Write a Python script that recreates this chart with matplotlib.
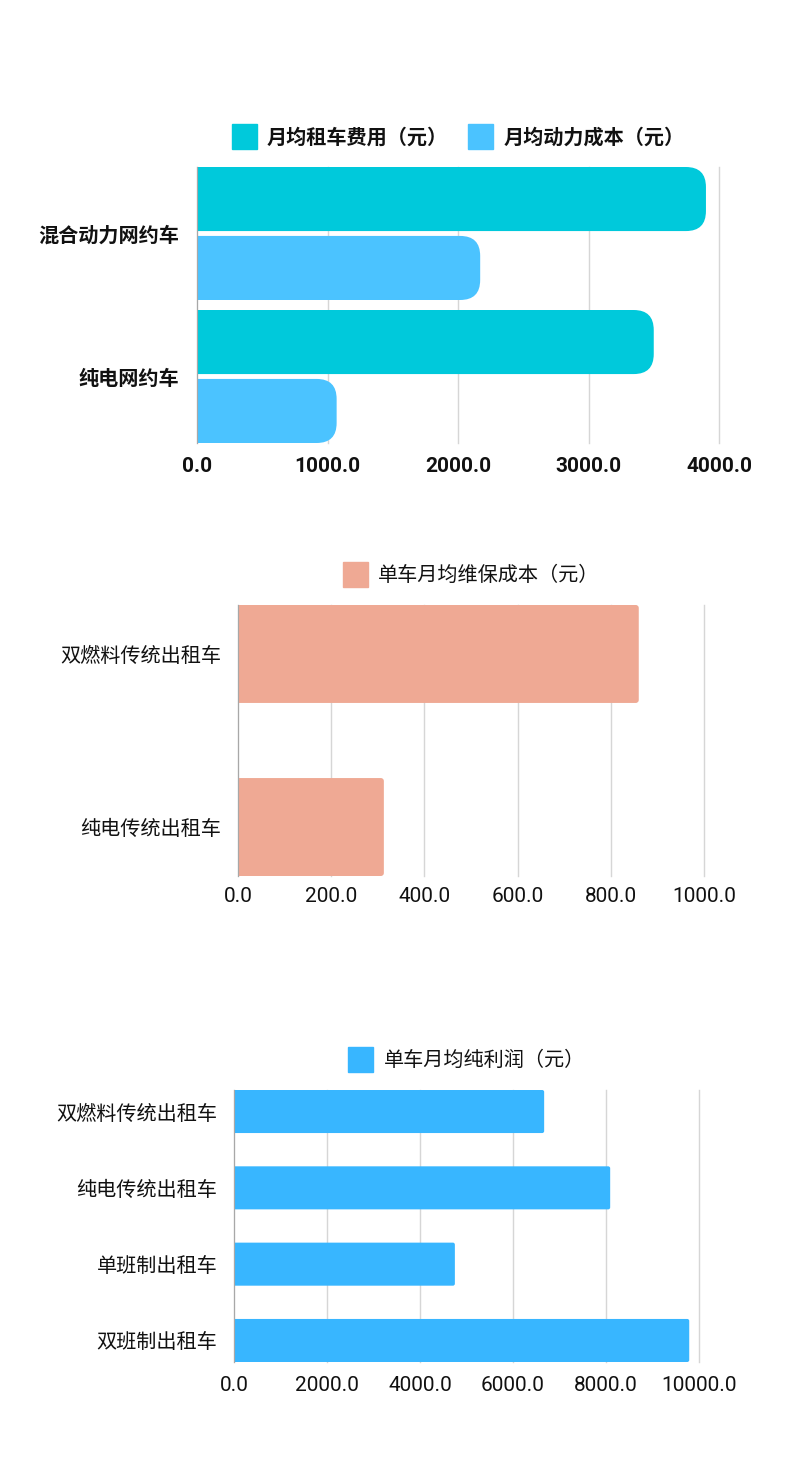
import matplotlib
matplotlib.use("Agg")
import matplotlib.pyplot as plt
import matplotlib.patches as mpatches
from matplotlib.patches import FancyBboxPatch

plt.rcParams['font.family'] = ['Noto Sans CJK SC', 'DejaVu Sans']

# chart 1 data
cars1 = ['混合动力网约车', '纯电网约车']
rent_fee = [3900, 3500]
power_cost = [2170, 1070]
series1 = ['月均租车费用（元）', '月均动力成本（元）']

# chart 2 data
cars2 = ['双燃料传统出租车', '纯电传统出租车']
maint_cost = [860, 313]
series2 = '单车月均维保成本（元）'

# chart 3 data
cars3 = ['双燃料传统出租车', '纯电传统出租车', '单班制出租车', '双班制出租车']
profit = [6670, 8090, 4750, 9790]
series3 = '单车月均纯利润（元）'

C_FEE = '#00C9DB'
C_POW = '#4BC3FF'
C_MAINT = '#EFA994'
C_PROFIT = '#38B6FF'
GRID = '#D6D6D6'

W, H = 800, 1467
fig = plt.figure(figsize=(W / 100, H / 100), dpi=100)


def px_axes(left, top, right, bottom):
    return fig.add_axes([left / W, 1 - bottom / H, (right - left) / W, (bottom - top) / H])


def style(ax, xmax, ticks, bold, pad_y, pad_x):
    ax.set_xlim(0, xmax)
    ax.set_xticks(ticks)
    ax.set_xticklabels([f'{t:.1f}' for t in ticks])
    ax.grid(axis='x', color=GRID, lw=1)
    for gl in ax.get_xgridlines():
        gl.set_clip_on(False)
    ax.set_axisbelow(True)
    for s in ['top', 'right', 'bottom']:
        ax.spines[s].set_visible(False)
    ax.spines['left'].set_color('#A8A8A8')
    ax.tick_params(length=0)
    ax.tick_params(axis='y', pad=pad_y)
    ax.tick_params(axis='x', pad=pad_x)
    w = 'bold' if bold else 'normal'
    for lab in ax.get_xticklabels():
        lab.set_family(['Roboto', 'DejaVu Sans'])
        lab.set_fontsize(15)
        lab.set_fontweight(w)
        lab.set_color('#111111')
    for lab in ax.get_yticklabels():
        lab.set_fontsize(14.5)
        lab.set_fontweight(w)
        lab.set_color('#111111')


def rounded_barh(ax, ypos, vals, height, color, r_px, ax_px):
    x0, x1 = ax.get_xlim()
    y0, y1 = ax.get_ylim()
    xpp = (x1 - x0) / ax_px[0]
    ypp = abs(y1 - y0) / ax_px[1]
    r = r_px * xpp
    for y, v in zip(ypos, vals):
        start = -3 * r
        p = FancyBboxPatch((start, y - height / 2), v - start, height,
                           boxstyle=f'round,pad=0,rounding_size={r}',
                           mutation_aspect=ypp / xpp, fc=color, ec='none', zorder=2)
        ax.add_patch(p)


def legend(ax, items, bold, anchor_y, spacing=1.2):
    handles = [mpatches.Patch(color=c, label=l) for l, c in items]
    leg = ax.legend(handles=handles, loc='lower center', bbox_to_anchor=(0.5, anchor_y),
                    ncol=len(items), frameon=False, handlelength=1.25, handleheight=1.5,
                    handletextpad=0.5, columnspacing=spacing,
                    prop={'size': 14.5, 'weight': 'bold' if bold else 'normal'})
    for t in leg.get_texts():
        t.set_color('#111111')


# ---- chart 1
ax1 = px_axes(197, 167, 719, 443)
ax1.set_ylim(1.465, -0.465)
ax1.set_yticks(range(len(cars1)))
ax1.set_yticklabels(cars1)
style(ax1, 4000, [0, 1000, 2000, 3000, 4000], True, 13, 10)
pos = list(range(len(cars1)))
rounded_barh(ax1, [p - 0.241 for p in pos], rent_fee, 0.448, C_FEE, 20, (522, 276))
rounded_barh(ax1, [p + 0.241 for p in pos], power_cost, 0.448, C_POW, 20, (522, 276))
legend(ax1, [(series1[0], C_FEE), (series1[1], C_POW)], True, 1.0, 1.0)

# ---- chart 2
ax2 = px_axes(238, 605, 704, 876)
ax2.set_ylim(1.283, -0.283)
ax2.set_yticks(range(len(cars2)))
ax2.set_yticklabels(cars2)
style(ax2, 1000, [0, 200, 400, 600, 800, 1000], False, 12, 8)
rounded_barh(ax2, range(len(cars2)), maint_cost, 0.566, C_MAINT, 3, (466, 271))
legend(ax2, [(series2, C_MAINT)], False, 1.0)

# ---- chart 3
ax3 = px_axes(234, 1090, 699, 1362)
ax3.set_ylim(3.282, -0.282)
ax3.set_yticks(range(len(cars3)))
ax3.set_yticklabels(cars3)
style(ax3, 10000, [0, 2000, 4000, 6000, 8000, 10000], False, 12, 10)
rounded_barh(ax3, range(len(cars3)), profit, 0.564, C_PROFIT, 2, (465, 272))
legend(ax3, [(series3, C_PROFIT)], False, 1.0)

fig.savefig('out.png', dpi=100)
